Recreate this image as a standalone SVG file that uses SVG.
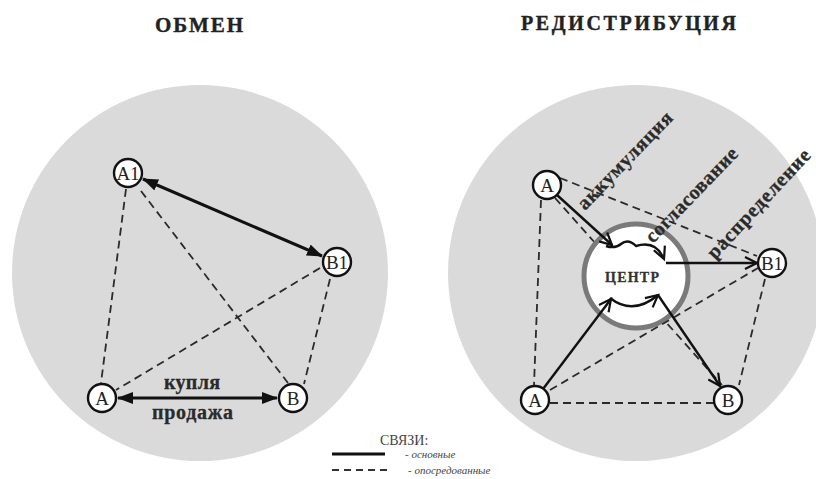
<svg xmlns="http://www.w3.org/2000/svg" width="816" height="479" viewBox="0 0 816 479">
<style>
.bg{fill:#dadada}
.dash{stroke:#2a2a2a;stroke-width:1.8;stroke-dasharray:8 5;fill:none}
.main{stroke:#111;stroke-width:3;fill:none}
.mainr{stroke:#111;stroke-width:2.4;fill:none}
.node circle{fill:#fff;stroke:#111;stroke-width:2.4}
.node text{font-family:"Liberation Serif",serif;font-size:19px;fill:#222;text-anchor:middle}
.title{font-family:"Liberation Serif",serif;font-weight:bold;fill:#222;stroke:#222;stroke-width:0.4}
.lbl{font-family:"Liberation Serif",serif;font-weight:bold;font-size:20px;fill:#2a2a2a;stroke:#2a2a2a;stroke-width:0.3}
.leg{font-family:"Liberation Serif",serif;fill:#444}
</style>
<defs>
<marker id="tri" markerUnits="userSpaceOnUse" markerWidth="16" markerHeight="12" refX="15" refY="6" orient="auto-start-reverse" viewBox="0 0 16 12">
<path d="M0,0 L16,6 L0,12 z" fill="#111"/>
</marker>
<marker id="chev" markerUnits="userSpaceOnUse" markerWidth="16" markerHeight="14" refX="13" refY="7" orient="auto" viewBox="0 0 16 14">
<path d="M1,1 L13,7 L1,13" fill="none" stroke="#111" stroke-width="2.2"/>
</marker>
</defs>
<rect width="816" height="479" fill="#fff"/>

<text class="title" x="155" y="32" font-size="21" textLength="88" lengthAdjust="spacing">ОБМЕН</text>
<text class="title" x="521" y="30" font-size="20" textLength="215" lengthAdjust="spacing">РЕДИСТРИБУЦИЯ</text>

<circle class="bg" cx="200" cy="273" r="188"/>
<circle class="bg" cx="636" cy="273" r="188"/>

<g id="connectors">
<line class="dash" x1="126" y1="189" x2="101" y2="383"/>
<line class="dash" x1="141" y1="191" x2="288" y2="383"/>
<line class="dash" x1="320" y1="268" x2="116" y2="390"/>
<line class="dash" x1="330" y1="279" x2="304" y2="384"/>
<line class="main" x1="143" y1="179" x2="322" y2="256" marker-start="url(#tri)" marker-end="url(#tri)"/>
<line class="main" x1="118" y1="398" x2="277" y2="398" marker-start="url(#tri)" marker-end="url(#tri)"/>
<line class="dash" x1="541" y1="200" x2="534" y2="385"/>
<line class="dash" x1="560" y1="178" x2="757" y2="256"/>
<line class="dash" x1="555" y1="198" x2="722" y2="385"/>
<line class="dash" x1="765" y1="279" x2="739" y2="385"/>
<line class="dash" x1="550" y1="403" x2="714" y2="403"/>
</g>

<g id="center">
<circle cx="636" cy="276" r="52" fill="#fff" stroke="#7a7a7a" stroke-width="5"/>
<text x="632" y="282" font-family="'Liberation Serif',serif" font-weight="bold" font-size="14" fill="#333" stroke="#333" stroke-width="0.3" text-anchor="middle" textLength="54" lengthAdjust="spacing">ЦЕНТР</text>
</g>

<g id="connectors-main">
<line class="dash" x1="550" y1="390" x2="758" y2="268"/>
<line class="mainr" x1="557" y1="195" x2="612" y2="245" marker-end="url(#chev)"/>
<line class="mainr" x1="543" y1="389" x2="611" y2="299" marker-end="url(#chev)"/>
<line class="mainr" x1="666" y1="263" x2="757" y2="263" marker-end="url(#chev)"/>
<line class="mainr" x1="658" y1="295" x2="720" y2="386" marker-end="url(#chev)"/>
<path class="mainr" d="M606 246 Q615 249 621 244 Q628 238 636 246 Q656 240 664 259" marker-end="url(#chev)"/>
<path class="mainr" d="M610 298 Q633 316 658 295" marker-end="url(#chev)"/>
</g>

<g id="lA1" class="node"><circle cx="128" cy="173" r="14"/><text x="128" y="180">A1</text></g>
<g id="lB1" class="node"><circle cx="337" cy="262" r="14"/><text x="337" y="269">B1</text></g>
<g id="lA" class="node"><circle cx="102" cy="398" r="14"/><text x="102" y="405">A</text></g>
<g id="lB" class="node"><circle cx="293" cy="398" r="14"/><text x="293" y="405">B</text></g>

<g id="rA1" class="node"><circle cx="547" cy="185" r="14"/><text x="547" y="192">A</text></g>
<g id="rB1" class="node"><circle cx="772" cy="263" r="14"/><text x="772" y="270">B1</text></g>
<g id="rA" class="node"><circle cx="535" cy="400" r="14"/><text x="535" y="407">A</text></g>
<g id="rB" class="node"><circle cx="728" cy="400" r="14"/><text x="728" y="407">B</text></g>

<text class="lbl" x="164" y="389" textLength="56" lengthAdjust="spacing">купля</text>
<text class="lbl" x="152" y="419" textLength="81" lengthAdjust="spacing">продажа</text>

<text class="lbl" transform="translate(585,211) rotate(-46)" textLength="128" lengthAdjust="spacing">аккумуляция</text>
<text class="lbl" transform="translate(653,244) rotate(-46)" textLength="124" lengthAdjust="spacing">согласование</text>
<text class="lbl" transform="translate(715,260) rotate(-47)" textLength="142" lengthAdjust="spacing">распределение</text>

<g id="legend">
<text class="leg" x="380" y="445" font-size="14">СВЯЗИ:</text>
<line x1="332" y1="454" x2="385" y2="454" stroke="#111" stroke-width="3"/>
<line x1="332" y1="470" x2="387" y2="470" stroke="#333" stroke-width="2" stroke-dasharray="7 5"/>
<text class="leg" x="405" y="458" font-size="11" font-style="italic">- основные</text>
<text class="leg" x="408" y="474" font-size="11" font-style="italic">- опосредованные</text>
</g>
</svg>
